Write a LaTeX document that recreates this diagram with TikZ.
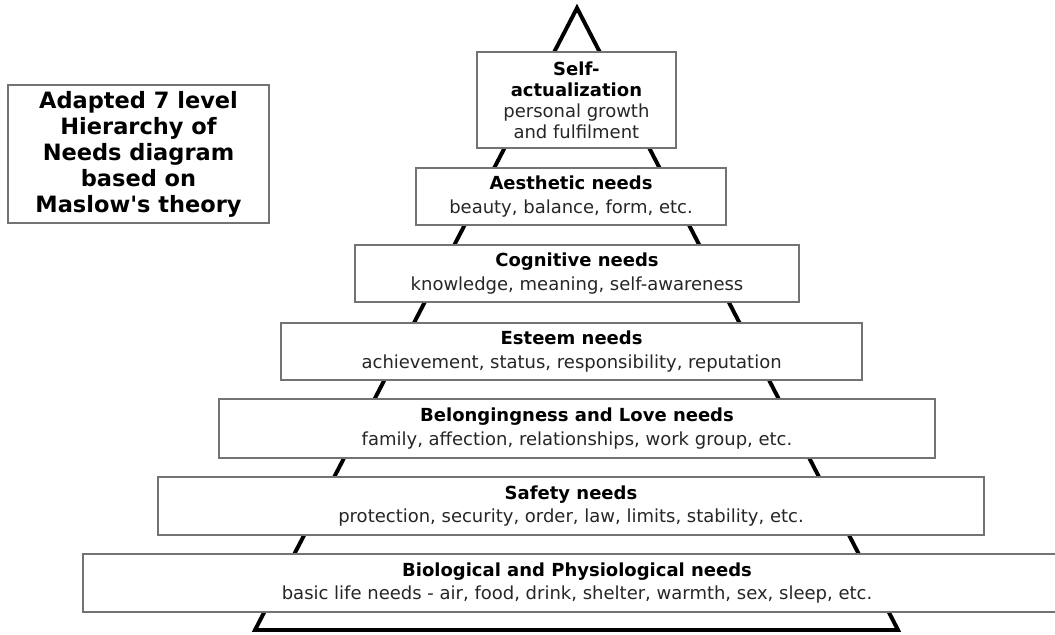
\documentclass[tikz,border=0pt]{standalone}
\usepackage{fontspec}
\setmainfont{DejaVu Sans}[Ligatures=TeXOff]
\usepackage{tikz}
\usepackage{xcolor}
\usetikzlibrary{positioning}

\begin{document}
\begin{tikzpicture}[
  level/.style={draw=gray!90!black,line width=1.4pt,fill=white,rectangle,inner sep=0pt,
    align=center,minimum height=1.425cm,text=black!85,font=\fontsize{12.8}{17}\selectfont},
  tip/.style={line width=2.8pt,line join=miter}]
  \useasboundingbox (0,0) rectangle (26.375,-15.875);
  % pyramid outline
  \coordinate (apex) at (14.425,-0.2);
  \coordinate (baseleft) at (6.375,-15.75);
  \coordinate (baseright) at (22.45,-15.75);
  \draw[tip] (baseleft) -- (apex) -- (baseright) -- cycle;
  % title box
  \node[level,minimum width=6.525cm,minimum height=3.45cm,text=black,
    font=\fontsize{16}{18.5}\selectfont\bfseries] (title) at (3.4625,-3.85)
    {Adapted 7 level\\Hierarchy of\\Needs diagram\\based on\\Maslow's theory};
  % levels, top to bottom
  \node[level,minimum width=4.975cm,minimum height=2.4cm,font=\fontsize{12.8}{15}\selectfont] (self) at (14.41,-2.5)
    {{\bfseries\color{black}Self-}\\{\bfseries\color{black}actualization}\\personal growth\\and fulfilment};
  \node[level,minimum width=7.75cm] (aesthetic) at (14.275,-4.9125)
    {{\bfseries\color{black}Aesthetic needs}\\beauty, balance, form, etc.};
  \node[level,minimum width=11.1cm] (cognitive) at (14.425,-6.8375)
    {{\bfseries\color{black}Cognitive needs}\\knowledge, meaning, self-awareness};
  \node[level,minimum width=14.525cm] (esteem) at (14.29,-8.79)
    {{\bfseries\color{black}Esteem needs}\\achievement, status, responsibility, reputation};
  \node[level,minimum width=17.9cm,minimum height=1.475cm] (belonging) at (14.425,-10.71)
    {{\bfseries\color{black}Belongingness and Love needs}\\family, affection, relationships, work group, etc.};
  \node[level,minimum width=20.65cm,minimum height=1.45cm] (safety) at (14.275,-12.65)
    {{\bfseries\color{black}Safety needs}\\protection, security, order, law, limits, stability, etc.};
  \node[level,minimum width=24.7cm,minimum height=1.45cm] (biological) at (14.425,-14.575)
    {{\bfseries\color{black}Biological and Physiological needs}\\basic life needs - air, food, drink, shelter, warmth, sex, sleep, etc.};
\end{tikzpicture}
\end{document}
